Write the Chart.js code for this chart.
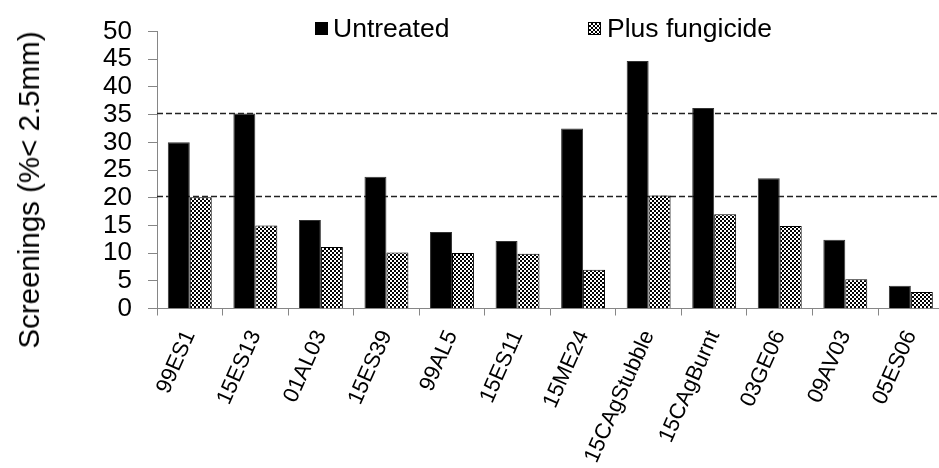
<!DOCTYPE html>
<html>
<head>
<meta charset="utf-8">
<script src="https://cdn.jsdelivr.net/npm/chart.js@4.4.1/dist/chart.umd.min.js"></script>
<style>
  html, body { margin: 0; padding: 0; background: #fff; overflow: hidden; }
  #wrap { position: relative; width: 946px; height: 468px; }
  .lg { position: absolute; font: 26.5px "Liberation Sans", Arial, sans-serif; line-height: 26px; color: #000; white-space: nowrap; }
  .box { position: absolute; width: 13px; height: 13px; box-sizing: border-box; }
  #ytitle { position: absolute; left: 29px; top: 190px; transform: translate(-50%, -50%) rotate(-90deg);
            font: 29.5px "Liberation Sans", Arial, sans-serif; line-height: 30px; white-space: nowrap; color: #000; }
</style>
</head>
<body>
<div id="wrap">
  <canvas id="chart" width="946" height="468"></canvas>
  <div id="ytitle"></div>
</div>
<script>
// ---------- Data ----------
const sites = ["99ES1", "15ES13", "01AL03", "15ES39", "99AL5", "15ES11", "15ME24",
               "15CAgStubble", "15CAgBurnt", "03GE06", "09AV03", "05ES06"];
const untreated = [30.0, 35.2, 16.0, 23.8, 13.8, 12.2, 32.5, 44.7, 36.2, 23.5, 12.4, 4.1];
const fungicide = [20.1, 15.0, 11.1, 10.1, 10.0, 9.9, 7.0, 20.4, 17.0, 14.9, 5.3, 3.0];
const seriesNames = ["Untreated", "Plus fungicide"];
const thresholds = [35.3, 20.4];     // dashed reference lines
const yTicks = { min: 0, max: 50, step: 5 };
const yTitle = "Screenings (%< 2.5mm)";

const FONT = '"Liberation Sans", Arial, sans-serif';
const AXIS = "#868686";

// ---------- Helpers ----------
function checker() {
    const c = document.createElement("canvas");
    c.width = 4; c.height = 4;
    const g = c.getContext("2d");
    g.fillStyle = "#fff"; g.fillRect(0, 0, 4, 4);
    g.fillStyle = "#000"; g.fillRect(0, 0, 2, 2); g.fillRect(2, 2, 2, 2);
    return g.createPattern(c, "repeat");
}

// dashed horizontal lines, behind the bars
const refLines = {
    id: "refLines",
    beforeDatasetsDraw(chart) {
        const { ctx, chartArea: a, scales: { y } } = chart;
        ctx.save();
        ctx.strokeStyle = "#222";
        ctx.lineWidth = 1.3;
        ctx.setLineDash([6, 3]);
        thresholds.forEach(v => {
            const py = Math.round(y.getPixelForValue(v)) + 0.5;
            ctx.beginPath();
            ctx.moveTo(a.left, py);
            ctx.lineTo(a.right, py);
            ctx.stroke();
        });
        ctx.restore();
    }
};

// ---------- Chart ----------
new Chart(document.getElementById("chart"), {
    type: "bar",
    data: {
        labels: sites,
        datasets: [
            { label: seriesNames[0], data: untreated, backgroundColor: "#000", borderColor: "#333", borderWidth: 1 },
            { label: seriesNames[1], data: fungicide, backgroundColor: checker(), borderColor: "#000", borderWidth: 1 },
        ]
    },
    options: {
        responsive: false,
        animation: false,
        devicePixelRatio: 1,
        layout: { padding: { top: 25, right: 1, bottom: 0, left: 0 } },
        datasets: { bar: { categoryPercentage: 0.67, barPercentage: 1.0 } },
        plugins: { legend: { display: false }, tooltip: { enabled: false } },
        scales: {
            x: {
                grid: { display: true, drawOnChartArea: false, drawTicks: true, tickLength: 7, color: AXIS, offset: true },
                border: { color: AXIS, width: 1 },
                ticks: { color: "#000", font: { family: FONT, size: 22 }, minRotation: 66, maxRotation: 66, padding: 11, autoSkip: false },
                afterFit: s => { s.height = 468 - 308.5; }
            },
            y: {
                min: yTicks.min, max: yTicks.max,
                grid: { display: true, drawOnChartArea: false, drawTicks: true, tickLength: 9, color: AXIS },
                border: { color: AXIS, width: 1 },
                ticks: { stepSize: yTicks.step, autoSkip: false, color: "#000", font: { family: FONT, size: 26 }, padding: 16 },
                afterFit: s => { s.width = 157; }
            }
        }
    },
    plugins: [refLines]
});

// ---------- Axis title + legend (HTML, inside the plot like the original) ----------
document.getElementById("ytitle").textContent = yTitle;

const wrap = document.getElementById("wrap");
const legendPos = [{ box: 315, text: 333 }, { box: 588, text: 607 }];
seriesNames.forEach((name, i) => {
    const b = document.createElement("div");
    b.className = "box";
    b.style.left = legendPos[i].box + "px";
    b.style.top = "22px";
    b.style.background = i === 0 ? "#000"
        : "repeating-conic-gradient(#000 0 25%, #fff 0 50%) 0 0 / 4px 4px";
    if (i === 1) b.style.border = "1px solid #000";
    wrap.append(b);
    const t = document.createElement("div");
    t.className = "lg";
    t.style.left = legendPos[i].text + "px";
    t.style.top = "14.5px";
    t.textContent = name;
    wrap.append(t);
});
</script>
</body>
</html>
